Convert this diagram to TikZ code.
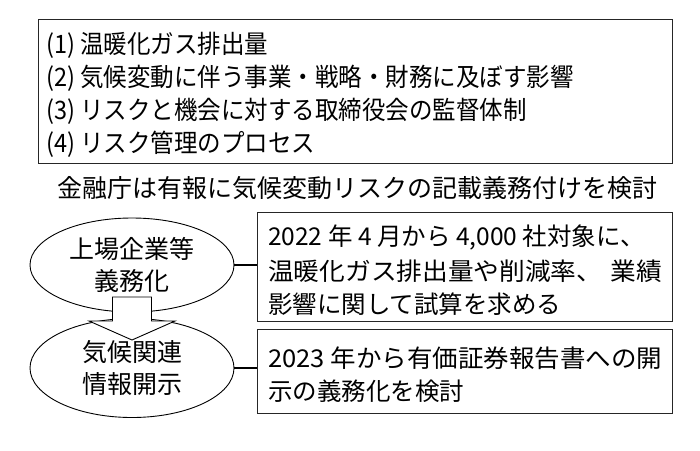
\documentclass[tikz,border=0pt]{standalone}
\usepackage{fontspec}
\setmainfont{Noto Sans CJK JP}
\usetikzlibrary{shapes.geometric}
\begin{document}
\begin{tikzpicture}[x=1pt,y=-1pt,
  frame/.style={draw=black!85, line width=0.9pt, inner sep=0pt},
  txt/.style={anchor=west, inner sep=0pt, font=\fontsize{24.5}{30}\selectfont},
  toptxt/.style={anchor=west, inner sep=0pt, font=\fontsize{23.5}{28}\selectfont},
  oval/.style={ellipse, draw, line width=0.9pt, minimum width=204pt, minimum height=94pt, inner sep=0pt, align=center, font=\fontsize{25}{32}\selectfont},
  link/.style={line width=2.8pt},
  blockarrow/.style={draw, fill=white, line width=0.9pt}]
\useasboundingbox (0,0) rectangle (700,450);
% top list box
\node[frame, minimum width=634pt, minimum height=144pt, anchor=north west] (top) at (38,19) {};
\node[toptxt] (l1) at (46,45) {\scalebox{1}[1.08]{(1) 温暖化ガス排出量}};
\node[toptxt] (l2) at (46,78.5) {\scalebox{1}[1.08]{(2) 気候変動に伴う事業・戦略・財務に及ぼす影響}};
\node[toptxt] (l3) at (46,111.5) {\scalebox{1}[1.08]{(3) リスクと機会に対する取締役会の監督体制}};
\node[toptxt] (l4) at (46,144) {\scalebox{1}[1.08]{(4) リスク管理のプロセス}};
% title
\node[txt, anchor=center, font=\fontsize{25}{30}\selectfont] (title) at (357,188) {金融庁は有報に気候変動リスクの記載義務付けを検討};
% ellipses
\node[oval] (e1) at (132,265) {上場企業等\\義務化};
\node[oval, minimum height=99pt] (e2) at (132,368) {気候関連\\情報開示};
% block arrow
\draw[blockarrow] (112.5,297) -- (151.5,297) -- (151.5,321) -- (175,321) -- (132,340) -- (89,321) -- (112.5,321) -- cycle;
% right boxes
\node[frame, anchor=north west, minimum width=415pt, minimum height=109pt] (b1) at (257,212) {};
\node[frame, anchor=north west, minimum width=415pt, minimum height=84pt] (b2) at (257,329) {};
\node[txt] (t11) at (268,237) {2022 年 4 月から 4,000 社対象に、};
\node[txt] (t12) at (268,271) {\resizebox{394pt}{\height}{温暖化ガス排出量や削減率、\hspace{8pt}業績}};
\node[txt] (t13) at (268,304) {影響に関して試算を求める};
\node[txt] (t21) at (268,358) {\resizebox{394pt}{\height}{2023 年から有価証券報告書への開}};
\node[txt] (t22) at (268,391) {示の義務化を検討};
% connectors
\draw[link] (e1.east) -- (e1.east -| b1.west);
\draw[link] (e2.east) -- (e2.east -| b2.west);
\end{tikzpicture}
\end{document}
